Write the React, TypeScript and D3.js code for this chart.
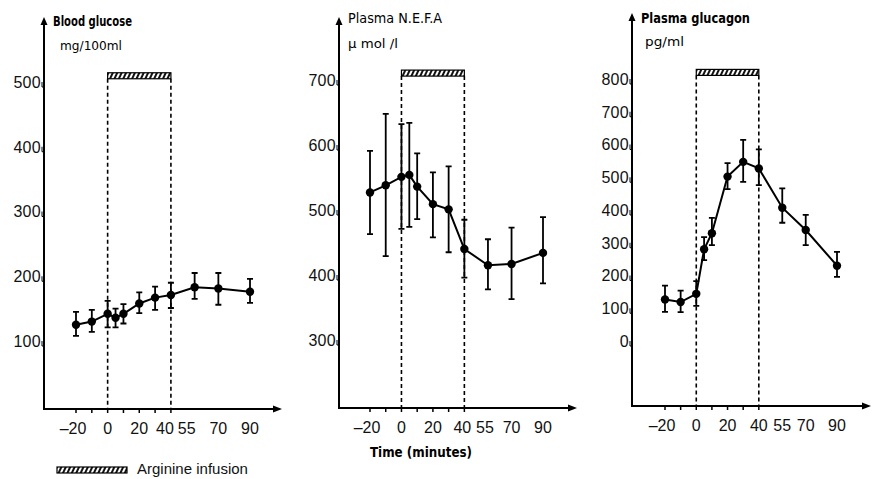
import React, { useRef, useEffect } from "react";
import * as d3 from "d3";

// sampling times (minutes)
const times = [-20, -10, 0, 5, 10, 20, 30, 40, 55, 70, 90];
const xTickLabels = [-20, 0, 20, 40, 55, 70, 90];
const xMinorTicks = [-20, -10, 0, 10, 20, 30, 40];
const infusion = [0, 40];

// Blood glucose mg/100ml
const glucoseMean = [125, 130, 142, 136, 142, 158, 167, 171, 183, 181, 176];
const glucoseHigh = [145, 148, 162, 150, 157, 175, 184, 190, 205, 205, 196];
const glucoseLow = [108, 114, 121, 121, 127, 143, 148, 151, 165, 156, 159];
const glucoseTicks = [100, 200, 300, 400, 500];

// Plasma NEFA umol/l
const nefaMean = [527, 538, 551, 554, 536, 509, 501, 440, 415, 417, 434];
const nefaHigh = [591, 648, 632, 634, 587, 558, 567, 485, 455, 473, 489];
const nefaLow = [463, 429, 471, 474, 486, 458, 435, 396, 378, 363, 387];
const nefaTicks = [300, 400, 500, 600, 700];

// Plasma glucagon pg/ml
const glucagonMean = [127, 119, 144, 280, 329, 502, 547, 527, 407, 339, 230];
const glucagonHigh = [169, 154, 183, 317, 376, 543, 614, 585, 466, 385, 272];
const glucagonLow = [89, 88, 107, 247, 293, 464, 486, 476, 361, 293, 196];
const glucagonTicks = [0, 100, 200, 300, 400, 500, 600, 700, 800];

const panels = [
  {
    title: "Blood glucose", unit: "mg/100ml", titleWeight: "bold",
    mean: glucoseMean, high: glucoseHigh, low: glucoseLow, ticks: glucoseTicks, barLevel: 505,
    yDomain: [100, 500], yRange: [341, 82], xRange: [76, 250],
    axisX: 44, axisY: 409, axisTop: 17, axisRight: 282,
    titleX: 53, titleY: 26, titleW: 79, unitX: 60, unitY: 50, unitW: 62,
    shift: { 40: -6, 55: -8 } as Record<number, number>,
  },
  {
    title: "Plasma N.E.F.A", unit: "\u00b5 mol /l", titleWeight: "normal",
    mean: nefaMean, high: nefaHigh, low: nefaLow, ticks: nefaTicks, barLevel: 706,
    yDomain: [300, 700], yRange: [340, 80], xRange: [370, 543],
    axisX: 339, axisY: 408, axisTop: 17, axisRight: 577,
    titleX: 348, titleY: 23, titleW: 94, unitX: 348, unitY: 48, unitW: 50,
    shift: { 40: -2, 55: -3 } as Record<number, number>,
  },
  {
    title: "Plasma glucagon", unit: "pg/ml", titleWeight: "600",
    mean: glucagonMean, high: glucagonHigh, low: glucagonLow, ticks: glucagonTicks, barLevel: 811,
    yDomain: [0, 800], yRange: [341, 79], xRange: [665, 837],
    axisX: 632, axisY: 406, axisTop: 13, axisRight: 871,
    titleX: 641, titleY: 23, titleW: 109, unitX: 645, unitY: 46, unitW: 39,
    shift: {} as Record<number, number>,
  },
];

const labelFont = "'Liberation Sans', Arial, sans-serif";
const titleFont = "'Liberation Sans Narrow', 'DejaVu Sans Condensed', sans-serif";

const App = () => {
  const ref = useRef<SVGSVGElement>(null);

  useEffect(() => {
    const svg = d3.select(ref.current);
    svg.selectAll("*").remove();

    const defs = svg.append("defs");
    const pat = defs
      .append("pattern")
      .attr("id", "hatch")
      .attr("patternUnits", "userSpaceOnUse")
      .attr("width", 4)
      .attr("height", 8)
      .attr("patternTransform", "rotate(25)");
    pat.append("rect").attr("width", 4).attr("height", 8).attr("fill", "#fff");
    pat.append("rect").attr("width", 2).attr("height", 8).attr("fill", "#111");

    panels.forEach((p) => {
      const x = d3.scaleLinear().domain([-20, 90]).range(p.xRange);
      const y = d3.scaleLinear().domain(p.yDomain).range(p.yRange);
      const g = svg.append("g");

      // axes
      g.append("line")
        .attr("x1", p.axisX).attr("x2", p.axisX)
        .attr("y1", p.axisY + 1).attr("y2", p.axisTop + 6)
        .attr("stroke", "#000").attr("stroke-width", 2);
      g.append("path")
        .attr("d", `M${p.axisX},${p.axisTop} l-3.5,8 h7 z`)
        .attr("fill", "#000");
      g.append("line")
        .attr("x1", p.axisX - 1).attr("x2", p.axisRight - 6)
        .attr("y1", p.axisY).attr("y2", p.axisY)
        .attr("stroke", "#000").attr("stroke-width", 2);
      g.append("path")
        .attr("d", `M${p.axisRight},${p.axisY} l-9,-3.5 v7 z`)
        .attr("fill", "#000");

      // y ticks
      g.selectAll(".ytl")
        .data(p.ticks)
        .join("text")
        .attr("x", p.axisX - 3)
        .attr("y", (d) => y(d))
        .attr("dy", "0.36em")
        .attr("text-anchor", "end")
        .attr("font-family", labelFont)
        .attr("font-size", 16)
        .attr("letter-spacing", 0.3)
        .attr("fill", "#111")
        .text((d) => d);
      g.selectAll(".yhook")
        .data(p.ticks)
        .join("path")
        .attr("d", (d) => `M${p.axisX - 2},${y(d)} v5 h2`)
        .attr("fill", "none")
        .attr("stroke", "#000")
        .attr("stroke-width", 1);

      // x ticks
      g.selectAll(".xminor")
        .data(xMinorTicks)
        .join("line")
        .attr("x1", (d) => x(d)).attr("x2", (d) => x(d))
        .attr("y1", p.axisY).attr("y2", p.axisY + 4)
        .attr("stroke", "#000").attr("stroke-width", 1.5);
      g.selectAll(".xtl")
        .data(xTickLabels)
        .join("text")
        .attr("x", (d) => x(d) + (p.shift[d] || 0) - (d < 0 ? 3 : 0))
        .attr("y", p.axisY + 25)
        .attr("text-anchor", "middle")
        .attr("font-family", labelFont)
        .attr("font-size", 16)
        .attr("fill", "#111")
        .text((d) => (d < 0 ? `\u2013${-d}` : d));

      // infusion bar and dashed guides
      const barBottom = y(p.barLevel);
      g.append("rect")
        .attr("x", x(infusion[0]))
        .attr("y", barBottom - 6)
        .attr("width", x(infusion[1]) - x(infusion[0]))
        .attr("height", 6)
        .attr("fill", "url(#hatch)")
        .attr("stroke", "#000")
        .attr("stroke-width", 1.2);
      g.selectAll(".guide")
        .data(infusion)
        .join("line")
        .attr("x1", (d) => x(d)).attr("x2", (d) => x(d))
        .attr("y1", barBottom).attr("y2", p.axisY)
        .attr("stroke", "#000")
        .attr("stroke-width", 1.6)
        .attr("stroke-dasharray", "4,3");

      // error bars
      const idx = d3.range(times.length);
      g.selectAll(".err")
        .data(idx)
        .join("path")
        .attr("d", (i) => {
          const cx = x(times[i]);
          const t = y(p.high[i]);
          const b = y(p.low[i]);
          return `M${cx},${t} V${b} M${cx - 3},${t} h6 M${cx - 3},${b} h6`;
        })
        .attr("fill", "none")
        .attr("stroke", "#000")
        .attr("stroke-width", 1.8);

      // mean line
      const line = d3
        .line<number>()
        .x((i) => x(times[i]))
        .y((i) => y(p.mean[i]));
      g.append("path")
        .attr("d", line(idx))
        .attr("fill", "none")
        .attr("stroke", "#000")
        .attr("stroke-width", 2);
      g.selectAll(".pt")
        .data(idx)
        .join("circle")
        .attr("cx", (i) => x(times[i]))
        .attr("cy", (i) => y(p.mean[i]))
        .attr("r", 4.2)
        .attr("fill", "#000");

      // titles
      g.append("text")
        .attr("x", p.titleX)
        .attr("y", p.titleY)
        .attr("font-family", titleFont)
        .attr("font-size", 14)
        .attr("font-weight", p.titleWeight)
        .attr("textLength", p.titleW)
        .attr("lengthAdjust", "spacingAndGlyphs")
        .text(p.title);
      g.append("text")
        .attr("x", p.unitX)
        .attr("y", p.unitY)
        .attr("font-family", titleFont)
        .attr("font-size", 13)
        .attr("textLength", p.unitW)
        .attr("lengthAdjust", "spacingAndGlyphs")
        .text(p.unit);
    });

    // x axis caption under middle panel
    svg.append("text")
      .attr("x", 370)
      .attr("y", 457)
      .attr("font-family", titleFont)
      .attr("font-size", 14)
      .attr("font-weight", "bold")
      .attr("textLength", 102)
      .attr("lengthAdjust", "spacingAndGlyphs")
      .text("Time  (minutes)");

    // legend
    svg.append("rect")
      .attr("x", 57)
      .attr("y", 467)
      .attr("width", 70)
      .attr("height", 6)
      .attr("fill", "url(#hatch)")
      .attr("stroke", "#000")
      .attr("stroke-width", 1.2);
    svg.append("text")
      .attr("x", 137)
      .attr("y", 474)
      .attr("font-family", labelFont)
      .attr("font-size", 15)
      .attr("fill", "#111")
      .text("Arginine infusion");
  }, []);

  return (
    <div>
      <style>{"body{margin:0;background:#fff}"}</style>
      <svg ref={ref} width={872} height={479} style={{ display: "block", background: "#fff" }}></svg>
    </div>
  );
};

export default App;
